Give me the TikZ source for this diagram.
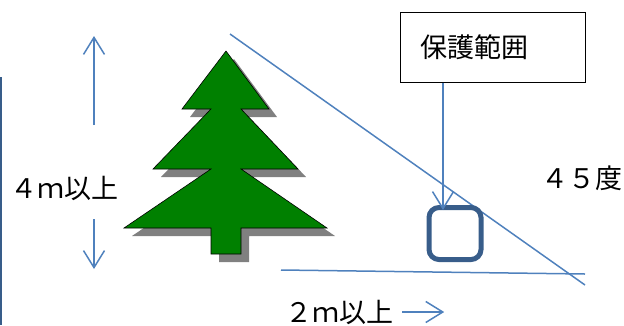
\documentclass[tikz,border=0pt]{standalone}
\usepackage{fontspec}
\newfontfamily\jpfont{Noto Sans CJK JP}
\usetikzlibrary{arrows.meta}
\definecolor{lineblue}{HTML}{4F81BD}
\definecolor{darkblue}{HTML}{385D8A}
\definecolor{treegreen}{HTML}{008000}
\tikzset{
	jptext/.style={font=\jpfont\fontsize{27}{30}\selectfont, inner sep=0pt},
	barb/.style={-{Straight Barb[length=17pt,width=21pt]}, lineblue, line width=1.5pt},
	treefill/.style={fill=treegreen, draw=black, line width=0.6pt},
	shadowfill/.style={fill=gray}
}
\begin{document}
\begin{tikzpicture}[x=1pt,y=-1pt]
	\useasboundingbox (0,0) rectangle (624,325);
	% fir tree with shadow
	\foreach \d/\st in {8/shadowfill,0/treefill}
	\path[\st,shift={(\d,\d)}] (226,51) -- (269,109) -- (241,109) -- (298,169) -- (241,169) -- (327,228) -- (241,228) -- (241,254) -- (211,254) -- (211,228) -- (124,228) -- (211,169) -- (153,169) -- (211,109) -- (182,109) -- cycle;
	% height label
	\node[jptext] (height) at (64,188) {４ｍ以上};
	\coordinate (htop) at (94,36);
	\coordinate (hbot) at (94,269);
	\draw[barb] (94,125) -- (htop);
	\draw[barb] (94,219) -- (hbot);
	\draw[darkblue, line width=2pt] (1,77) -- (1,325);
	% slope and ground
	\coordinate (s1) at (230,34);
	\coordinate (s2) at (585,285);
	\coordinate (g1) at (281,270);
	\coordinate (g2) at (585,274);
	\draw[lineblue, line width=1.5pt] (s1) -- (s2);
	\draw[lineblue, line width=1.5pt] (g1) -- (g2);
	\node[jptext] (angle) at (582,178) {４５度};
	% protected area
	\node[draw, line width=1pt, minimum width=185pt, minimum height=70pt, text width=145pt, inner xsep=20pt, align=left, font=\jpfont\fontsize{27}{30}\selectfont] (range) at (492.5,47) {保護範囲};
	\node[draw=darkblue, line width=5pt, rounded corners=10pt, minimum size=52pt, inner sep=0pt] (sq) at (455,233.5) {};
	\coordinate (tip) at (443,210);
	\draw[barb] (tip |- range.south) -- (tip);
	% distance label
	\node[jptext] (dist) at (339,312) {２ｍ以上};
	\draw[barb] ([xshift=9pt]dist.east) -- ++(42,0);
\end{tikzpicture}
\end{document}
